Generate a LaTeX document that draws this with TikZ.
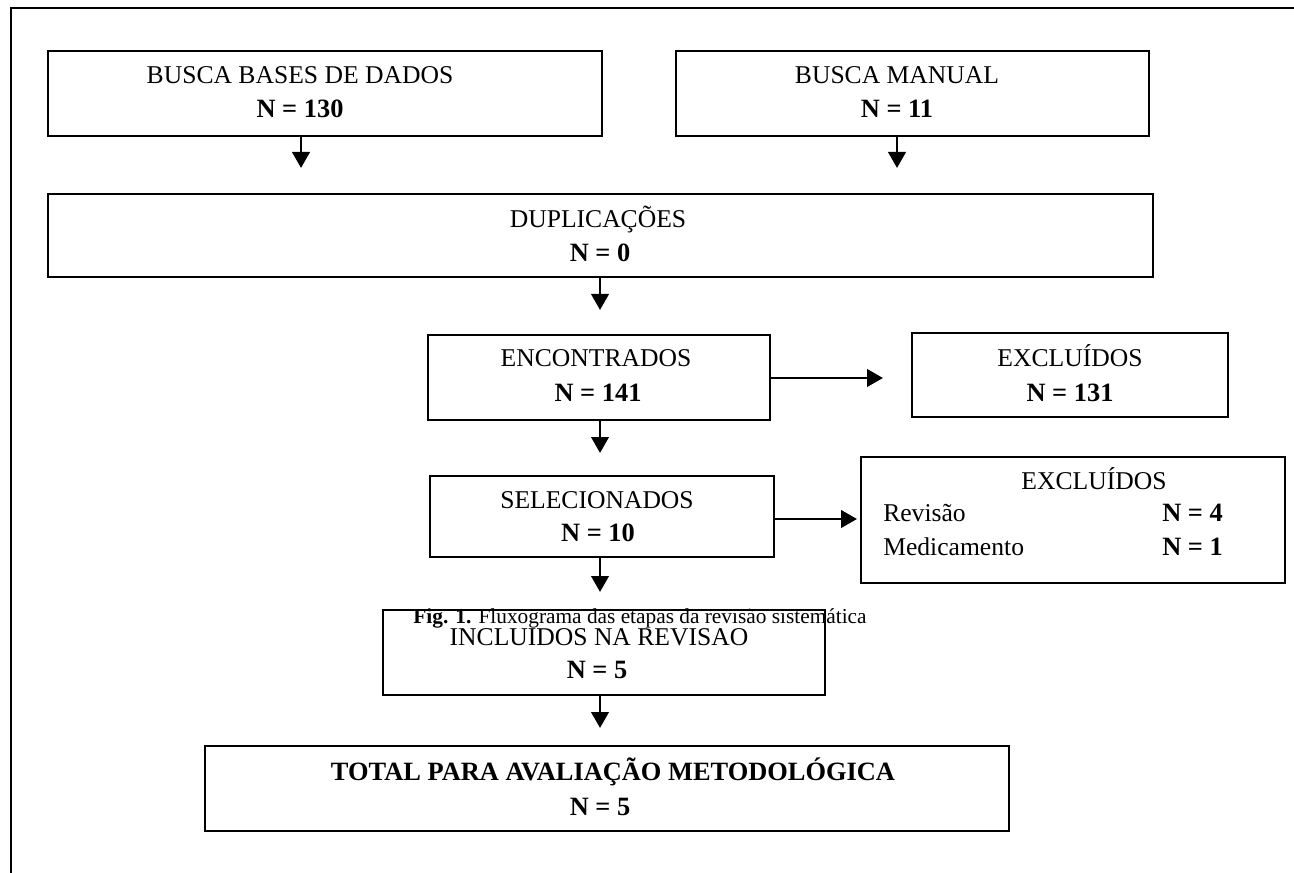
\documentclass[tikz,border=0pt]{standalone}
\usepackage{fontspec}
\setmainfont{Liberation Serif}
\usetikzlibrary{arrows.meta,fit}
\begin{document}
\begin{tikzpicture}[x=0.75pt,y=-0.75pt,
  frameline/.style={line width=1.5pt},
  box/.style={draw,line width=1.5pt,inner sep=0pt},
  txt/.style={font=\fontsize{19.2}{22}\selectfont,anchor=base,inner sep=0pt},
  txtb/.style={txt,font=\fontsize{19.8}{22}\selectfont\bfseries},
  txtl/.style={txt,anchor=base west},
  txtlb/.style={txtb,anchor=base west},
  captxt/.style={font=\fontsize{16}{18}\selectfont,anchor=base,inner sep=0pt},
  arr/.style={-{Triangle[width=13pt,length=12pt]},line width=2.2pt}]
\useasboundingbox (0,0) rectangle (1294,873);
% page frame (top and left edges only)
\draw[frameline] (1294,8) -- (11,8) -- (11,873);

% box corners
\coordinate (c1a) at (48,51);   \coordinate (c1b) at (602,136);
\coordinate (c2a) at (676,51);  \coordinate (c2b) at (1149,136);
\coordinate (c3a) at (48,194);  \coordinate (c3b) at (1153,277);
\coordinate (c4a) at (428,335); \coordinate (c4b) at (770,420);
\coordinate (c5a) at (912,333); \coordinate (c5b) at (1228,417);
\coordinate (c6a) at (430,476); \coordinate (c6b) at (774,557);
\coordinate (c7a) at (861,457); \coordinate (c7b) at (1285,583);
\coordinate (c8a) at (383,610); \coordinate (c8b) at (825,695);
\coordinate (c9a) at (205,746); \coordinate (c9b) at (1009,831);

% boxes
\node[box,fit=(c1a)(c1b)] (b1) {};
\node[box,fit=(c2a)(c2b)] (b2) {};
\node[box,fit=(c3a)(c3b)] (b3) {};
\node[box,fit=(c4a)(c4b)] (b4) {};
\node[box,fit=(c5a)(c5b)] (b5) {};
\node[box,fit=(c6a)(c6b)] (b6) {};
\node[box,fit=(c7a)(c7b)] (b7) {};
\node[box,fit=(c8a)(c8b)] (b8) {};
\node[box,fit=(c9a)(c9b)] (b9) {};

% box texts
\node[txt] (t1a) at (300,84) {BUSCA BASES DE DADOS};
\node[txtb] (t1b) at (300,118) {N = 130};
\node[txt] (t2a) at (897,84) {BUSCA MANUAL};
\node[txtb] (t2b) at (897,118) {N = 11};
\node[txt] (t3a) at (598,228) {DUPLICAÇÕES};
\node[txtb] (t3b) at (600,262) {N = 0};
\node[txt] (t4a) at (596,366) {ENCONTRADOS};
\node[txtb] (t4b) at (598,401) {N = 141};
\node[txt] (t5a) at (1070,366) {EXCLUÍDOS};
\node[txtb] (t5b) at (1070,401) {N = 131};
\node[txt] (t6a) at (597,508) {SELECIONADOS};
\node[txtb] (t6b) at (598,541) {N = 10};
\node[txt] (t7a) at (1094,489) {EXCLUÍDOS};
\node[txtl] (t7b) at (883,521) {Revisão};
\node[txtlb] (t7c) at (1162,521) {N = 4};
\node[txtl] (t7d) at (883,555) {Medicamento};
\node[txtlb] (t7e) at (1162,555) {N = 1};
\node[txt] (t8a) at (599,645) {INCLUIDOS NA REVISAO};
\node[txtb] (t8b) at (597,678) {N = 5};
\node[txtb] (t9a) at (613,780) {TOTAL PARA AVALIAÇÃO METODOLÓGICA};
\node[txtb] (t9b) at (600,815) {N = 5};

% figure caption
\node[captxt] (fig) at (640,623) {\textbf{Fig. 1.} Fluxograma das etapas da revisão sistemática};

% arrow tips
\coordinate (a1) at (301,168);
\coordinate (a2) at (897,168);
\coordinate (a3) at (600,310);
\coordinate (a4) at (600,453);
\coordinate (a5) at (600,592);
\coordinate (a6) at (600,728);
\coordinate (e1) at (883,378);
\coordinate (e2) at (857,519);

% connectors
\draw[arr] (b1.south -| a1) -- (a1);
\draw[arr] (b2.south -| a2) -- (a2);
\draw[arr] (b3.south -| a3) -- (a3);
\draw[arr] (b4.south -| a4) -- (a4);
\draw[arr] (b6.south -| a5) -- (a5);
\draw[arr] (b8.south -| a6) -- (a6);
\draw[arr] (b4.east |- e1) -- (e1);
\draw[arr] (b6.east |- e2) -- (e2);
\end{tikzpicture}
\end{document}
